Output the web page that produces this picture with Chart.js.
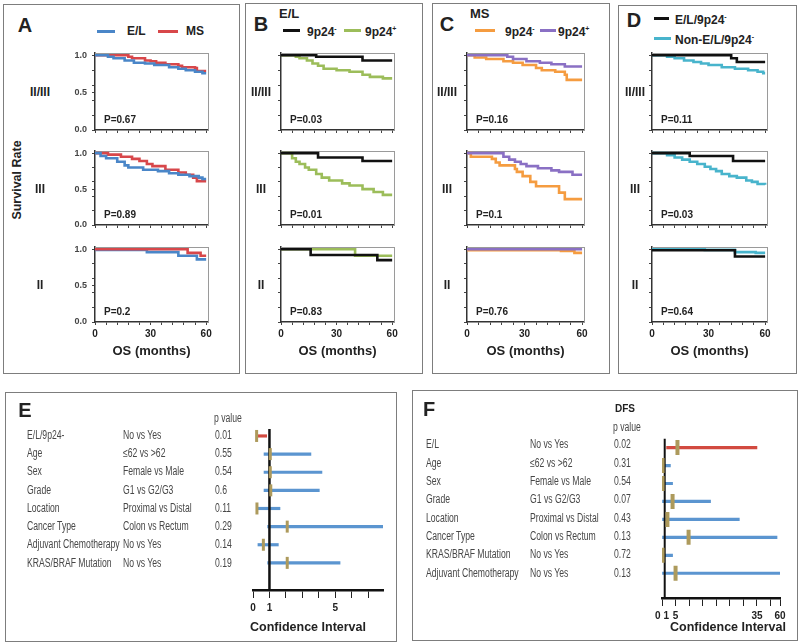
<!DOCTYPE html>
<html lang="en">
<head>
<meta charset="UTF-8" />
<title>Survival by stage and forest plots</title>
<style>
  body { margin: 0; background: #fff; font-family: "Liberation Sans", Arial, sans-serif; }
  #fig { position: relative; width: 800px; height: 644px; overflow: hidden; }
  .box { position: absolute; border: 1.5px solid #7d7d7d; box-sizing: border-box; }
  .t { position: absolute; white-space: nowrap; line-height: 1; color: #222; font-weight: bold; }
  .sw { position: absolute; height: 3px; }
  canvas { position: absolute; }
</style>
</head>
<body>
<div id="fig"></div>

<script src="https://cdn.jsdelivr.net/npm/chart.js@4.4.0/dist/chart.umd.min.js"></script>
<script>
// ---- Kaplan-Meier curves: [month, survival] ----
const A1_EL = [[0,1],[7,0.98],[10,0.96],[16,0.93],[21,0.9],[27,0.89],[32,0.87],[40,0.84],[45,0.82],[49,0.8],[54,0.78],[58,0.76],[60,0.76]];
const A1_MS = [[0,1],[18,0.98],[20,0.96],[27,0.93],[30,0.92],[33,0.9],[38,0.88],[45,0.86],[47,0.84],[54,0.83],[55,0.79],[60,0.79]];
const A2_EL = [[0,1],[3,0.96],[6,0.93],[12,0.88],[16,0.83],[18,0.8],[26,0.77],[34,0.75],[40,0.72],[45,0.7],[51,0.68],[56,0.66],[58,0.64],[60,0.64]];
const A2_MS = [[0,1],[7,0.98],[14,0.95],[20,0.92],[24,0.89],[28,0.85],[31,0.82],[38,0.77],[45,0.73],[49,0.7],[53,0.66],[55,0.61],[60,0.61]];
const A3_EL = [[0,0.99],[28,0.96],[45,0.91],[55,0.86],[60,0.86]];
const A3_MS = [[0,1],[50,0.95],[57,0.91],[60,0.91]];

const B1_NEG = [[0,1],[19,0.98],[44,0.93],[60,0.93]];
const B1_POS = [[0,1],[8,0.98],[10,0.96],[14,0.93],[17,0.89],[20,0.86],[23,0.82],[30,0.8],[37,0.78],[44,0.74],[48,0.71],[55,0.69],[60,0.69]];
const B2_NEG = [[0,1],[20,0.94],[44,0.89],[60,0.89]];
const B2_POS = [[0,1],[6,0.93],[8,0.88],[10,0.85],[13,0.8],[15,0.77],[19,0.71],[22,0.66],[26,0.62],[33,0.58],[37,0.55],[44,0.5],[50,0.46],[55,0.42],[60,0.42]];
const B3_NEG = [[0,1],[16,0.92],[52,0.85],[60,0.85]];
const B3_POS = [[0,1],[40,0.91],[60,0.91]];

const C1_NEG = [[0,1],[4,0.97],[10,0.95],[19,0.92],[24,0.9],[29,0.87],[36,0.83],[39,0.8],[46,0.78],[51,0.74],[52,0.67],[60,0.67]];
const C1_POS = [[0,1],[21,0.98],[24,0.95],[31,0.92],[38,0.9],[44,0.88],[51,0.85],[60,0.85]];
const C2_NEG = [[0,1],[2,0.95],[13,0.92],[15,0.87],[17,0.83],[25,0.78],[26,0.74],[29,0.68],[33,0.6],[36,0.54],[48,0.45],[51,0.36],[60,0.36]];
const C2_POS = [[0,1],[19,0.95],[22,0.91],[25,0.88],[28,0.85],[31,0.82],[37,0.79],[44,0.76],[48,0.74],[55,0.7],[60,0.7]];
const C3_NEG = [[0,0.985],[49,0.975],[56,0.95],[60,0.95]];
const C3_POS = [[0,1],[60,1]];

const D1_EL = [[0,1],[42,0.96],[45,0.91],[60,0.91]];
const D1_NON = [[0,1],[8,0.98],[12,0.96],[17,0.93],[22,0.91],[26,0.89],[30,0.87],[37,0.84],[44,0.82],[51,0.8],[56,0.78],[59,0.76],[60,0.76]];
const D2_EL = [[0,1],[20,0.96],[43,0.89],[60,0.89]];
const D2_NON = [[0,1],[8,0.97],[12,0.94],[16,0.91],[20,0.88],[24,0.85],[28,0.81],[31,0.78],[34,0.75],[37,0.71],[41,0.68],[45,0.66],[50,0.62],[53,0.6],[56,0.57],[60,0.56]];
const D3_EL = [[0,0.985],[44,0.9],[60,0.9]];
const D3_NON = [[0,1],[28,0.99],[44,0.96],[55,0.95],[60,0.95]];

const KM_X_TICKS = [0, 6, 12, 18, 24, 30, 36, 42, 48, 54, 60];
const KM_X_LABELS = [0, 30, 60];
const KM_Y_TICKS = [0, 0.2, 0.4, 0.6, 0.8, 1];
const KM_Y_TICKS_A = [0, 0.2, 0.4, 0.5, 0.6, 0.8, 1];
const KM_Y_LABELS = [0, 0.5, 1];
const STAGES = ["II/III", "III", "II"];
const P_A = ["P=0.67", "P=0.89", "P=0.2"];
const P_B = ["P=0.03", "P=0.01", "P=0.83"];
const P_C = ["P=0.16", "P=0.1", "P=0.76"];
const P_D = ["P=0.11", "P=0.03", "P=0.64"];

// ---- forest plots ----
const E_VARS = ["E/L/9p24-", "Age", "Sex", "Grade", "Location", "Cancer Type", "Adjuvant Chemotherapy", "KRAS/BRAF Mutation"];
const E_COMP = ["No vs Yes", "≤62 vs >62", "Female vs Male", "G1 vs G2/G3", "Proximal vs Distal", "Colon vs Rectum", "No vs Yes", "No vs Yes"];
const E_P = ["0.01", "0.55", "0.54", "0.6", "0.11", "0.29", "0.14", "0.19"];
const E_LOW = [0.2, 0.67, 0.67, 0.67, 0.22, 0.89, 0.3, 0.89];
const E_HR = [0.22, 1.05, 1.05, 1.08, 0.24, 2.08, 0.63, 2.08];
const E_HIGH = [0.83, 3.52, 4.19, 4.03, 1.64, 8.5, 1.54, 5.29];
const E_TICKS = [0, 1, 2, 3, 4, 5, 6, 7];
const E_TICK_LABELS = { 0: "0", 1: "1", 5: "5" };

const F_VARS = ["E/L", "Age", "Sex", "Grade", "Location", "Cancer Type", "KRAS/BRAF Mutation", "Adjuvant Chemotherapy"];
const F_COMP = ["No vs Yes", "≤62 vs >62", "Female vs Male", "G1 vs G2/G3", "Proximal vs Distal", "Colon vs Rectum", "No vs Yes", "No vs Yes"];
const F_P = ["0.02", "0.31", "0.54", "0.07", "0.43", "0.13", "0.72", "0.13"];
const F_LOW = [1.7, 0, 0, 0, 0, 0, 0, 0];
const F_HR = [5.7, 0.2, 0.2, 3.9, 2.0, 9.8, 0.2, 5.0];
const F_HIGH = [35, 3.1, 3.9, 17.9, 28.5, 42.4, 3.9, 45];
const F_TICKS = [0, 5, 10, 15, 20, 25, 30, 35, 40, 43.5];
const F_TICK_LABELS = { 0: "0 1", 5: "5", 35: "35", 43.5: "60" };

// colours
const BLUE = "#4a86c8", RED = "#d8474a", GREEN = "#9cbd5a", BLACK = "#111",
      ORANGE = "#f59c40", PURPLE = "#8a70c4", CYAN = "#48b4cc",
      CI_BLUE = "#5b95d0", CI_RED = "#d24a40", TAN = "#ad9a5c";

// layout of the survival grid
const COLS = [[95, 208], [281, 394], [467, 584], [652, 767]];
const ROWS = [[53, 130], [151, 225], [247, 322]];
const FONT = '"Liberation Sans", Arial, sans-serif';
Chart.defaults.font.family = FONT;

const fig = document.getElementById("fig");

function box(l, t, w, h) {
  const d = document.createElement("div");
  d.className = "box";
  Object.assign(d.style, { left: l + "px", top: t + "px", width: w + "px", height: h + "px" });
  fig.appendChild(d);
}

function put(html, x, y, o = {}) {
  const d = document.createElement("div");
  d.className = "t";
  d.innerHTML = html;
  d.style.fontSize = (o.size || 12) + "px";
  if (o.normal) { d.style.fontWeight = "normal"; d.style.color = "#474747"; }
  d.style.left = x + "px";
  d.style.top = y + "px";
  const ax = o.align === "left" ? "0" : "-50%";
  let tf = `translate(${ax}, -50%)`;
  if (o.narrow) { tf += " scaleX(0.72)"; d.style.transformOrigin = "left center"; }
  if (o.rotate) tf += " rotate(-90deg)";
  d.style.transform = tf;
  fig.appendChild(d);
}

function swatch(x, y, w, color) {
  const d = document.createElement("div");
  d.className = "sw";
  Object.assign(d.style, { left: x + "px", top: (y - 1.5) + "px", width: w + "px", background: color });
  fig.appendChild(d);
}

function fixSize(prop, v) {
  return s => {
    s[prop] = v;
    s.paddingLeft = s.paddingRight = s.paddingTop = s.paddingBottom = 0;
  };
}

function km(col, row, curves) {
  const [L, R] = COLS[col], [T, B] = ROWS[row];
  const padL = 30, padR = 10, padT = 4, padB = row === 2 ? 22 : 6;
  const cv = document.createElement("canvas");
  cv.width = R - L + padL + padR;
  cv.height = B - T + padT + padB;
  cv.style.left = (L - padL) + "px";
  cv.style.top = (T - padT) + "px";
  fig.appendChild(cv);
  const yTicks = col === 0 ? KM_Y_TICKS_A : KM_Y_TICKS;
  new Chart(cv, {
    type: "line",
    data: {
      datasets: curves.map(c => ({
        data: c[0].map(p => ({ x: p[0], y: p[1] })),
        borderColor: c[1],
        borderWidth: 2.6,
        stepped: true,
        pointRadius: 0,
        fill: false
      }))
    },
    options: {
      responsive: false,
      animation: false,
      events: [],
      layout: { padding: { top: padT, right: padR, left: 0, bottom: 0 } },
      plugins: { legend: { display: false }, tooltip: { enabled: false } },
      scales: {
        x: {
          type: "linear", min: 0, max: 61,
          afterBuildTicks: s => { s.ticks = KM_X_TICKS.map(v => ({ value: v })); },
          afterFit: fixSize("height", padB),
          grid: { drawOnChartArea: false, tickLength: 3, color: "#444" },
          border: { color: "#333", width: 1.5 },
          ticks: {
            autoSkip: false, maxRotation: 0, padding: 3, color: "#222",
            font: { size: 10, weight: "bold" },
            callback: v => (row === 2 && KM_X_LABELS.includes(v) ? String(v) : "")
          }
        },
        y: {
          type: "linear", min: 0, max: 1.03,
          afterBuildTicks: s => { s.ticks = yTicks.map(v => ({ value: v })); },
          afterFit: fixSize("width", padL),
          grid: { drawOnChartArea: false, tickLength: 3, color: "#444" },
          border: { color: "#333", width: 1.5 },
          ticks: {
            autoSkip: false, padding: 5, color: "#444",
            font: { size: 9, weight: "bold" },
            callback: v => (col === 0 && KM_Y_LABELS.includes(v) ? v.toFixed(1) : "")
          }
        },
        xTop: {
          type: "linear", position: "top",
          afterFit: fixSize("height", 0),
          grid: { display: false }, ticks: { display: false },
          border: { color: "#9a9a9a", width: 1 }
        },
        yRight: {
          type: "linear", position: "right",
          afterFit: fixSize("width", 0),
          grid: { display: false }, ticks: { display: false },
          border: { color: "#9a9a9a", width: 1 }
        }
      }
    }
  });
}

function forest(o) {
  const cv = document.createElement("canvas");
  cv.width = o.w; cv.height = o.h;
  cv.style.left = o.left + "px"; cv.style.top = o.top + "px";
  fig.appendChild(cv);
  const rows = o.low.map((_, i) => i + 1);
  new Chart(cv, {
    type: "scatter",
    data: {
      datasets: [
        {
          type: "scatter",
          data: o.hr.map((v, i) => ({ x: v, y: rows[i] })),
          pointStyle: "line", rotation: 90,
          pointRadius: o.markR, borderColor: TAN, borderWidth: o.markW, backgroundColor: TAN
        },
        {
          type: "line",
          data: [{ x: 1, y: o.yMin }, { x: 1, y: o.yMax }],
          borderColor: "#111", borderWidth: o.refW, pointRadius: 0
        },
        {
          type: "bar", indexAxis: "y",
          data: o.low.map((v, i) => ({ x: [v, o.high[i]], y: rows[i] })),
          backgroundColor: o.low.map((_, i) => (i === 0 ? CI_RED : CI_BLUE)),
          barThickness: 2.5
        }
      ]
    },
    options: {
      responsive: false,
      animation: false,
      events: [],
      layout: { padding: o.pad },
      plugins: { legend: { display: false }, tooltip: { enabled: false } },
      scales: {
        x: {
          type: "linear", min: 0, max: o.xMax, offset: false,
          afterBuildTicks: s => { s.ticks = o.ticks.map(v => ({ value: v })); },
          afterFit: fixSize("height", 25),
          grid: { offset: false, drawOnChartArea: false, tickLength: 8, color: "#222" },
          border: { display: true, color: "#111", width: 2.5 },
          ticks: {
            autoSkip: false, maxRotation: 0, padding: 4, color: "#222",
            font: { size: 10, weight: "bold" },
            callback: v => (o.labels[v] !== undefined ? o.labels[v] : "")
          }
        },
        y: { type: "linear", reverse: true, min: o.yMin, max: o.yMax, offset: false, display: false }
      }
    }
  });
}

// forest plots are built before the survival grid so their axes render
forest({
  left: 243, top: 420, w: 150, h: 195, pad: { left: 10, right: 10, top: 8, bottom: 0 },
  xMax: 7.9, yMin: 0.616, yMax: 9.496, ticks: E_TICKS, labels: E_TICK_LABELS,
  low: E_LOW, hr: E_HR, high: E_HIGH, markR: 6, markW: 3, refW: 2.5
});
forest({
  left: 650, top: 427, w: 142, h: 196, pad: { left: 12, right: 12, top: 8, bottom: 0 },
  xMax: 43.5, yMin: 0.493, yMax: 9.379, ticks: F_TICKS, labels: F_TICK_LABELS,
  low: F_LOW, hr: F_HR, high: F_HIGH, markR: 7.5, markW: 4, refW: 2
});

// ---- panel frames ----
box(3, 4, 237, 370);
box(245, 3, 178, 371);
box(432, 3, 178, 371);
box(618, 5, 179, 369);
box(5, 392, 392, 250);
box(412, 390, 386, 251);

// ---- panel A ----
put("A", 25, 25, { size: 20 });
swatch(97, 31, 18, BLUE); put("E/L", 127, 31, { align: "left" });
swatch(158, 31, 20, RED); put("MS", 186, 31, { align: "left" });
put("Survival Rate", 17, 180, { size: 12.5, rotate: true });
km(0, 0, [[A1_EL, BLUE], [A1_MS, RED]]);
km(0, 1, [[A2_EL, BLUE], [A2_MS, RED]]);
km(0, 2, [[A3_MS, RED], [A3_EL, BLUE]]);

// ---- panel B ----
put("B", 261, 24, { size: 20 });
put("E/L", 279, 13, { size: 13, align: "left" });
swatch(283, 30, 17, BLACK); put("9p24<sup style='font-size:7px'>-</sup>", 307, 31, { align: "left" });
swatch(344, 30, 17, GREEN); put("9p24<sup style='font-size:7px'>+</sup>", 365, 31, { align: "left" });
km(1, 0, [[B1_NEG, BLACK], [B1_POS, GREEN]]);
km(1, 1, [[B2_NEG, BLACK], [B2_POS, GREEN]]);
km(1, 2, [[B3_NEG, BLACK], [B3_POS, GREEN]]);

// ---- panel C ----
put("C", 447, 24, { size: 20 });
put("MS", 470, 13, { size: 13, align: "left" });
swatch(475, 30, 20, ORANGE); put("9p24<sup style='font-size:7px'>-</sup>", 505, 31, { align: "left" });
swatch(540, 30, 16, PURPLE); put("9p24<sup style='font-size:7px'>+</sup>", 558, 31, { align: "left" });
km(2, 0, [[C1_POS, PURPLE], [C1_NEG, ORANGE]]);
km(2, 1, [[C2_POS, PURPLE], [C2_NEG, ORANGE]]);
km(2, 2, [[C3_POS, PURPLE], [C3_NEG, ORANGE]]);

// ---- panel D ----
put("D", 634, 20, { size: 20 });
swatch(654, 18, 15, BLACK); put("E/L/9p24<sup style='font-size:7px'>-</sup>", 675, 19, { align: "left" });
swatch(654, 38, 17, CYAN); put("Non-E/L/9p24<sup style='font-size:7px'>-</sup>", 675, 39, { align: "left" });
km(3, 0, [[D1_EL, BLACK], [D1_NON, CYAN]]);
km(3, 1, [[D2_EL, BLACK], [D2_NON, CYAN]]);
km(3, 2, [[D3_EL, BLACK], [D3_NON, CYAN]]);

// stage labels, p values, axis titles
const STAGE_X = [40, 261, 447, 635];
const P_SETS = [P_A, P_B, P_C, P_D];
STAGE_X.forEach((sx, c) => {
  ROWS.forEach(([T, B], r) => {
    put(STAGES[r], sx, [92, 189, 285][r], { size: 12 });
    put(P_SETS[c][r], COLS[c][0] + 9, B - 10, { size: 10, align: "left" });
  });
  put("OS (months)", (COLS[c][0] + COLS[c][1]) / 2, 350, { size: 13 });
});

// ---- panel E text ----
put("E", 25, 410, { size: 20 });
put("p value", 214, 418, { normal: true, narrow: true, align: "left" });
E_VARS.forEach((v, i) => {
  const y = 435 + i * 18.24;
  put(v, 27, y, { normal: true, narrow: true, align: "left" });
  put(E_COMP[i], 123, y, { normal: true, narrow: true, align: "left" });
  put(E_P[i], 215, y, { normal: true, narrow: true, align: "left" });
});
put("Confidence Interval", 308, 627, { size: 12.5 });

// ---- panel F text ----
put("F", 429, 409, { size: 20 });
put("DFS", 625, 409, { size: 10 });
put("p value", 613, 427, { normal: true, narrow: true, align: "left" });
F_VARS.forEach((v, i) => {
  const y = 444.3 + i * 18.34;
  put(v, 426, y, { normal: true, narrow: true, align: "left" });
  put(F_COMP[i], 530, y, { normal: true, narrow: true, align: "left" });
  put(F_P[i], 614, y, { normal: true, narrow: true, align: "left" });
});
put("Confidence Interval", 728, 627, { size: 12.5 });
</script>
</body>
</html>
